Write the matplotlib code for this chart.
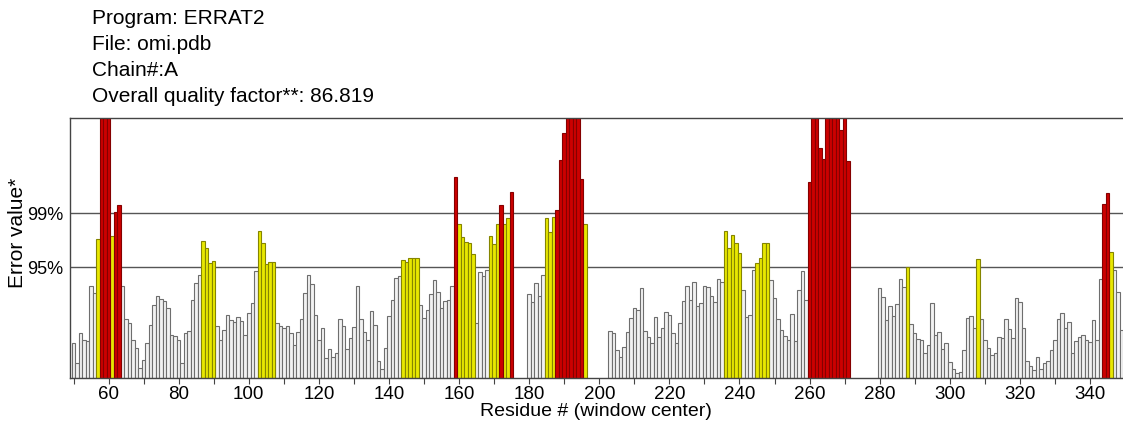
import numpy as np
import matplotlib
matplotlib.use('Agg')
import matplotlib.pyplot as plt

plt.rcParams['font.family'] = ['Liberation Sans', 'DejaVu Sans']

header_lines = ['Program: ERRAT2', 'File: omi.pdb', 'Chain#:A',
                'Overall quality factor**: 86.819']

first_residue = 50
# error value per window centre (None = no window there)
error_values = [
    3.7, 1.6, 4.7, 4.0, 3.9, 9.6, 8.9, 14.5, 30, 30,            # 50
    30, 14.8, 17.3, 18.0, 9.6, 6.1, 5.7, 4.0, 3.1, 1.0,         # 60
    1.9, 3.7, 5.5, 7.6, 8.5, 8.2, 8.0, 7.3, 4.5, 4.4,           # 70
    4.0, 1.6, 4.7, 4.9, 8.1, 9.9, 10.7, 14.3, 13.5, 12.0,       # 80
    12.2, 5.4, 4.0, 5.0, 6.6, 6.0, 5.8, 6.4, 5.9, 4.5,          # 90
    6.8, 7.8, 11.2, 15.3, 14.1, 11.9, 12.1, 12.1, 5.7, 5.4,     # 100
    5.2, 5.4, 4.7, 3.4, 4.8, 6.1, 8.9, 10.7, 9.8, 6.6,          # 110
    4.0, 5.2, 2.1, 3.0, 2.2, 2.6, 6.1, 5.4, 3.0, 4.2,           # 120
    5.3, 9.6, 6.1, 4.8, 4.0, 7.0, 5.5, 1.8, 0.9, 3.1,           # 130
    6.5, 8.1, 10.4, 10.6, 12.3, 12.1, 12.5, 12.5, 12.5, 7.6,    # 140
    6.3, 7.1, 8.8, 10.2, 9.0, 7.3, 8.0, 8.1, 9.6, 20.9,         # 150
    16.0, 14.7, 14.2, 14.1, 12.9, 5.7, 11.0, 10.6, 11.3, 14.8,  # 160
    14.0, 16.1, 18.0, 16.1, 16.7, 19.4, None, None, None, None, # 170
    8.8, 7.9, 9.9, 8.5, 10.7, 16.7, 15.2, 16.8, 17.5, 22.7,     # 180
    25.5, 30, 30, 30, 30, 20.7, 16.1, None, None, None,         # 190
    None, None, None, 4.9, 4.7, 2.9, 2.2, 3.2, 4.8, 6.3,        # 200
    7.3, 7.1, 9.4, 4.9, 4.3, 3.7, 6.4, 4.3, 5.2, 6.9,           # 210
    6.6, 4.7, 3.7, 5.7, 8.0, 9.6, 8.1, 10.0, 7.5, 7.8,          # 220
    9.6, 9.5, 8.5, 7.9, 10.3, 10.0, 15.3, 13.5, 14.9, 14.1,     # 230
    13.0, 9.2, 6.4, 6.6, 11.3, 12.0, 12.5, 14.1, 14.1, 10.2,    # 240
    8.3, 6.2, 5.0, 4.4, 4.0, 6.7, 3.9, 9.2, 11.2, 8.1,          # 250
    20.4, 30, 30, 24.0, 22.8, 30, 30, 30, 30, 25.9,             # 260
    30, 22.6, None, None, None, None, None, None, None, None,   # 270
    9.4, 8.4, 6.0, 7.5, 6.5, 7.7, 10.3, 9.5, 11.6, 5.6,         # 280
    4.7, 4.1, 4.0, 2.6, 3.4, 7.8, 4.5, 4.8, 3.0, 3.6,           # 290
    1.7, 0.9, 0.5, 0.6, 2.9, 6.3, 6.5, 5.2, 12.4, 6.1,          # 300
    4.0, 3.1, 2.4, 2.6, 4.3, 4.2, 6.1, 5.1, 4.2, 8.3,           # 310
    7.9, 5.2, 1.8, 1.2, 0.8, 2.2, 0.9, 1.6, 1.8, 2.9,           # 320
    4.0, 6.2, 6.8, 5.2, 5.8, 2.6, 3.9, 4.3, 4.5, 4.0,           # 330
    3.8, 6.0, 4.0, 10.3, 18.1, 19.3, 13.1, 11.3, 9.0, 5.0,      # 340
]

limit_95 = 11.56
limit_99 = 17.19
y_max = 27.1

fig = plt.figure(figsize=(11.23, 4.26), dpi=100)
ax = fig.add_axes([70 / 1123, 48 / 426, 1055 / 1123, 260 / 426])

res = np.array([first_residue + i for i in range(len(error_values))])
vals = np.array([np.nan if v is None else v for v in error_values])
ok = ~np.isnan(vals)
red = ok & (vals > limit_99)
yellow = ok & (vals > limit_95) & ~red
grey = ok & ~red & ~yellow

ax.bar(res[grey], vals[grey], width=1.0, color='#f2f2f2', edgecolor='#6e6e6e', linewidth=0.8, zorder=2)
ax.bar(res[yellow], vals[yellow], width=1.0, color='#e8e800', edgecolor='#858500', linewidth=0.8, zorder=2)
ax.bar(res[red], vals[red], width=1.0, color='#cc0000', edgecolor='#850000', linewidth=0.8, zorder=2)

ax.axhline(limit_95, color='#555555', lw=1, zorder=1)
ax.axhline(limit_99, color='#555555', lw=1, zorder=1)

ax.set_xlim(49.0, 350.0)
ax.set_ylim(0, y_max)
ax.spines['right'].set_visible(False)
for s in ['left', 'top', 'bottom']:
    ax.spines[s].set_color('#444444')
    ax.spines[s].set_linewidth(1)

ax.set_xticks(np.arange(50, 350, 10))
ax.set_xticklabels([str(t) if t % 20 == 0 else '' for t in range(50, 350, 10)], fontsize=13.5)
ax.tick_params(axis='x', length=4, color='#444444', pad=1.5)
ax.set_yticks([limit_95, limit_99])
ax.set_yticklabels(['95%', '99%'], fontsize=13)
ax.tick_params(axis='y', length=0, pad=5)

for i, line in enumerate(header_lines):
    fig.text(92 / 1123, 1 - (19 + 25.7 * i) / 426, line, fontsize=15, va='center', ha='left')

fig.text(18 / 1123, 1 - 233 / 426, 'Error value*', rotation=90, fontsize=15, va='center', ha='center')
fig.text(596 / 1123, 1 - 411 / 426, 'Residue # (window center)', fontsize=14, va='center', ha='center')

fig.savefig('out.png', dpi=100)
